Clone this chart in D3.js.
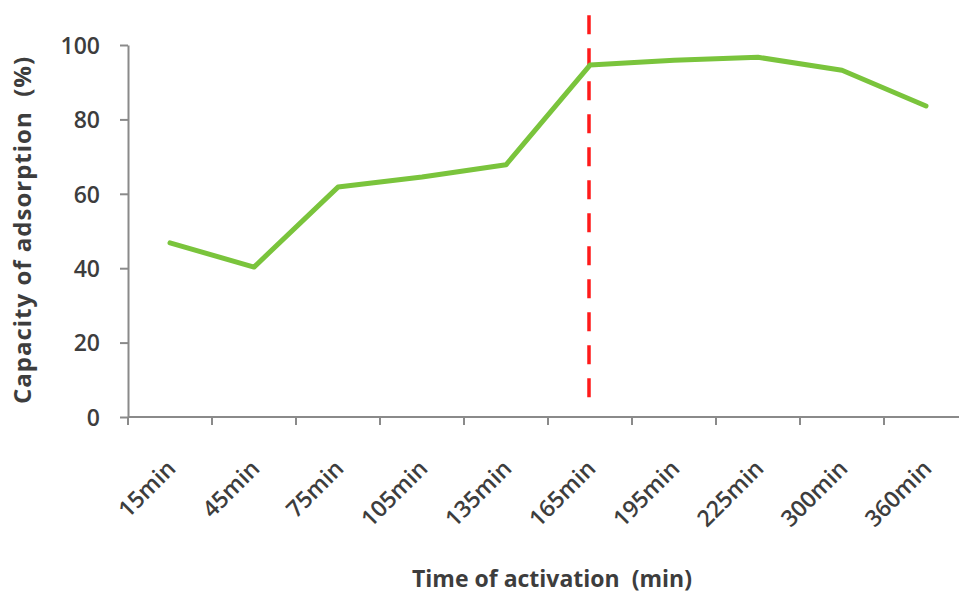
<!DOCTYPE html>
<html>
<head>
<meta charset="utf-8">
<script src="https://cdn.jsdelivr.net/npm/d3@7"></script>
<style>
  html, body { margin: 0; padding: 0; background: #ffffff; }
  svg { display: block; }
  text { font-family: "Open Sans", "DejaVu Sans", sans-serif; }
</style>
</head>
<body>
<svg id="chart" width="959" height="594"></svg>
<script>
// ---- data ----
const categories = ["15min", "45min", "75min", "105min", "135min", "165min", "195min", "225min", "300min", "360min"];
const capacity = [46.8, 40.3, 61.8, 64.5, 67.8, 94.6, 95.9, 96.7, 93.2, 83.6];
const yTicks = [0, 20, 40, 60, 80, 100];
const markerCategory = "165min";
const markerExtent = [4, 108];
const xTitle = "Time of activation  (min)";
const yTitle = "Capacity of adsorption  (%)";

// ---- layout ----
const svg = d3.select("#chart");
const mLeft = 128, mRight = 968, mTop = 45, mBottom = 417;

const x = d3.scaleBand().domain(categories).range([mLeft, mRight]).padding(0);
const y = d3.scaleLinear().domain([0, 100]).range([mBottom, mTop]);

const axisColor = "#8a8a8a";
const textColor = "#3d3d3d";

// y axis
const yAxis = svg.append("g").attr("transform", `translate(${mLeft},0)`)
  .call(d3.axisLeft(y).tickValues(yTicks).tickSize(8).tickSizeOuter(0).tickPadding(20));
yAxis.select(".domain").attr("stroke", axisColor).attr("stroke-width", 2);
yAxis.selectAll(".tick line").attr("stroke", axisColor).attr("stroke-width", 2);
yAxis.selectAll(".tick text")
  .attr("fill", textColor).attr("font-size", 23).attr("font-weight", 600)
  .attr("font-family", "Open Sans, DejaVu Sans, sans-serif")
  .attr("dy", "0.36em");

// x axis: ticks at band boundaries
const boundaries = categories.map(c => x(c)).concat([x(categories[categories.length - 1]) + x.bandwidth()]);
svg.append("line")
  .attr("x1", mLeft).attr("x2", mRight).attr("y1", mBottom).attr("y2", mBottom)
  .attr("stroke", axisColor).attr("stroke-width", 2);
svg.append("g").selectAll("line").data(boundaries).join("line")
  .attr("x1", d => d).attr("x2", d => d)
  .attr("y1", mBottom).attr("y2", mBottom + 8)
  .attr("stroke", axisColor).attr("stroke-width", 2);

// x tick labels rotated
svg.append("g").selectAll("text").data(categories).join("text")
  .attr("transform", d => `translate(${x(d) + x.bandwidth() / 2 + 7},${mBottom + 53}) rotate(-45)`)
  .attr("text-anchor", "end")
  .attr("fill", textColor).attr("font-size", 23).attr("font-weight", 600)
  .text(d => d);

// red dashed marker
svg.append("line")
  .attr("x1", x(markerCategory) + x.bandwidth() / 2 - 1)
  .attr("x2", x(markerCategory) + x.bandwidth() / 2 - 1)
  .attr("y1", y(markerExtent[1])).attr("y2", y(markerExtent[0]))
  .attr("stroke", "#ff1a1a").attr("stroke-width", 3.5)
  .attr("stroke-dasharray", "19,14");

// green line
const line = d3.line()
  .x((d, i) => x(categories[i]) + x.bandwidth() / 2)
  .y(d => y(d));
svg.append("path")
  .datum(capacity)
  .attr("d", line)
  .attr("fill", "none")
  .attr("stroke", "#7ac43c")
  .attr("stroke-width", 5)
  .attr("stroke-linejoin", "round")
  .attr("stroke-linecap", "round");

// axis titles
svg.append("text")
  .attr("x", 552).attr("y", 587)
  .attr("text-anchor", "middle")
  .attr("fill", textColor).attr("font-size", 23).attr("font-weight", 700)
  .style("white-space", "pre")
  .text(xTitle);

svg.append("text")
  .attr("transform", `translate(31,230) rotate(-90)`)
  .attr("text-anchor", "middle")
  .attr("fill", textColor).attr("font-size", 24).attr("font-weight", 700)
  .attr("letter-spacing", 1)
  .style("white-space", "pre")
  .text(yTitle);
</script>
</body>
</html>
